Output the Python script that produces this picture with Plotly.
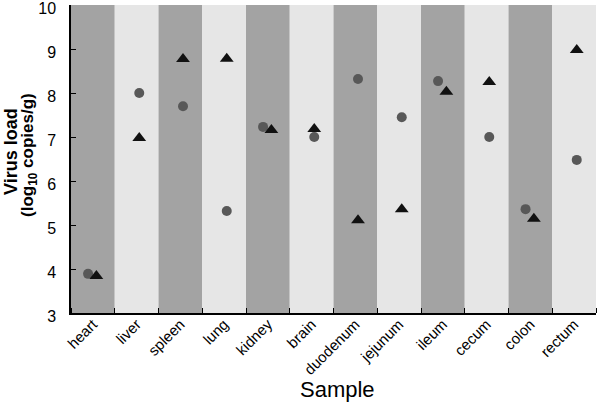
import plotly.graph_objects as go

samples = ["heart", "liver", "spleen", "lung", "kidney", "brain", "duodenum",
           "jejunum", "ileum", "cecum", "colon", "rectum"]
circle_vals = [3.89, 8.0, 7.70, 5.32, 7.23, 7.0, 8.32, 7.45, 8.27, 7.0, 5.36, 6.48]
triangle_vals = [3.84, 6.98, 8.77, 8.78, 7.16, 7.18, 5.11, 5.36, 8.03, 8.25, 5.14, 8.98]
dodged = ["heart", "kidney", "ileum", "colon"]
y_ticks = [3, 4, 5, 6, 7, 8, 9, 10]

idx = list(range(len(samples)))
xc = [i + (-0.11 if s in dodged else 0.06) for i, s in zip(idx, samples)]
xt = [i + (0.08 if s in dodged else 0.06) for i, s in zip(idx, samples)]

W, H = 600, 403
ML, MR, MT, MB = 71, 4, 5, 90
pw, ph = W - ML - MR, H - MT - MB


def px_x(p):
    return (p - ML) / pw


def px_y(p):
    return (H - MB - p) / ph


fig = go.Figure()

shapes = []
for i in idx:
    shapes.append(dict(type="rect", xref="x", yref="y", x0=i - 0.5, x1=i + 0.5,
                       y0=3, y1=10, layer="below", line=dict(width=0),
                       fillcolor="#a3a3a3" if i % 2 == 0 else "#e6e6e6"))

fig.add_trace(go.Scatter(x=xc, y=circle_vals, mode="markers", name="circle",
                         marker=dict(symbol="circle", size=10, color="#585858")))
fig.add_trace(go.Scatter(x=xt, y=triangle_vals, mode="markers", name="triangle",
                         marker=dict(symbol="triangle-up", size=12, color="#111111")))

annotations = [
    dict(text="<b>Virus load</b>", textangle=-90,
         xref="paper", yref="paper", x=px_x(11), y=px_y(152),
         xanchor="center", yanchor="middle", showarrow=False,
         font=dict(size=18)),
    dict(text="<b>(log<sub>10</sub> copies/g)</b>", textangle=-90,
         xref="paper", yref="paper", x=px_x(29), y=px_y(155),
         xanchor="center", yanchor="middle", showarrow=False,
         font=dict(size=17)),
    dict(text="Sample", xref="paper", yref="paper", x=px_x(337), y=px_y(389),
         xanchor="center", yanchor="middle", showarrow=False,
         font=dict(size=22)),
]

fig.update_layout(
    width=W, height=H,
    margin=dict(l=ML, r=MR, t=MT, b=MB),
    paper_bgcolor="white", plot_bgcolor="white",
    showlegend=False, shapes=shapes, annotations=annotations,
    font=dict(family="Liberation Sans, Arial, sans-serif", color="black"),
    xaxis=dict(range=[-0.5, len(samples) - 0.5], tickvals=idx, ticktext=samples,
               tickangle=-45, ticks="", showgrid=False, zeroline=False,
               showline=True, linecolor="black", linewidth=1.5,
               tickfont=dict(size=15), automargin=False, ticklabelstandoff=-5,
               minor=dict(tickvals=[i - 0.5 for i in idx] + [len(samples) - 0.5],
                          ticks="inside", ticklen=5, tickcolor="black", showgrid=False)),
    yaxis=dict(range=[3, 10], tickvals=y_ticks, ticks="inside", ticklen=5,
               tickcolor="black", showgrid=False, zeroline=False,
               showline=True, linecolor="black", linewidth=1.5,
               tickfont=dict(size=16), automargin=False,
               ticklabeloverflow="allow", ticklabelstandoff=10, ticklabelshift=3),
)

fig.write_html("out.html",
               config={"displayModeBar": False},
               post_script="document.body.style.margin='0';document.body.style.overflow='hidden';")
